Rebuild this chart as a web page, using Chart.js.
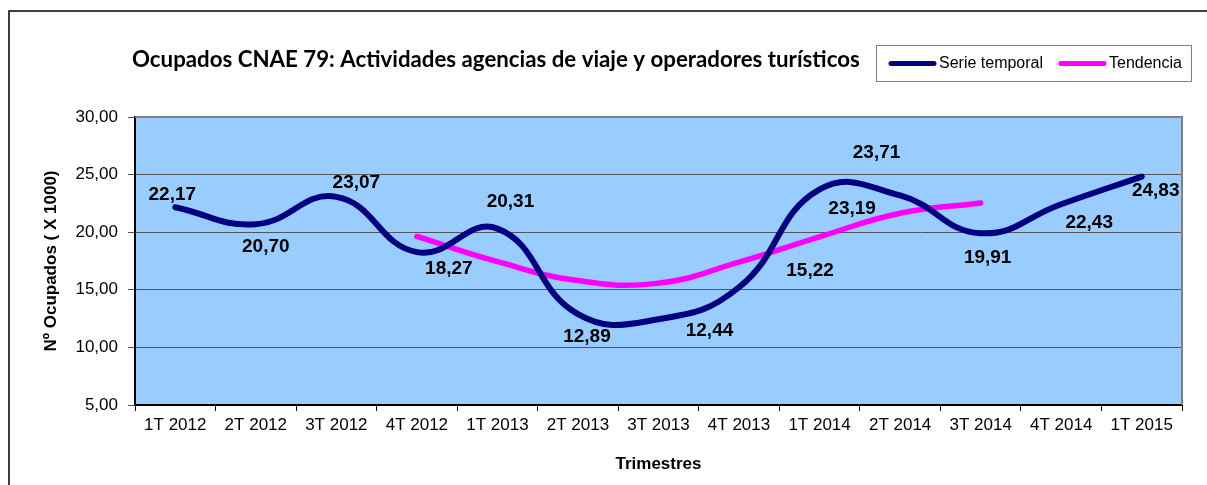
<!DOCTYPE html>
<html>
<head>
<meta charset="utf-8">
<script src="https://cdn.jsdelivr.net/npm/chart.js@4"></script>
<style>
  html, body { margin: 0; padding: 0; background: #fff; }
  #wrap { width: 1207px; height: 485px; }
</style>
</head>
<body>
<div id="wrap"><canvas id="myChart" width="1207" height="485"></canvas></div>
<script>
// datos
const trimestres = ["1T 2012", "2T 2012", "3T 2012", "4T 2012", "1T 2013", "2T 2013", "3T 2013",
                    "4T 2013", "1T 2014", "2T 2014", "3T 2014", "4T 2014", "1T 2015"];
const serieTemporal = [22.17, 20.70, 23.07, 18.27, 20.31, 12.89, 12.44, 15.22, 23.71, 23.19, 19.91, 22.43, 24.83];
const tendencia = [null, null, null, 19.63, 17.45, 15.80, 15.58, 17.40, 19.60, 21.65, 22.54, null, null];
const yMin = 5, yMax = 30, yStep = 5;

const titulo = "Ocupados CNAE 79: Actividades agencias de viaje y operadores turísticos";
const tituloEjeY = "Nº Ocupados ( X 1000)";
const tituloEjeX = "Trimestres";

// desplazamiento de las etiquetas respecto al punto (px), como en el original
const offsetsEtiquetas = [[-3, -12], [10, 23], [20, -14], [32, 17], [13, -27], [9, 23], [51, 11],
                          [71, -16], [57, -37], [-48, 13], [7, 25], [28, 19], [14, 14]];

const fmt = (v) => v.toFixed(2).replace(".", ",");

// fondo del area de trazado, marco y titulo/leyenda
const decoracion = {
    id: "decoracion",
    beforeDraw(chart) {
        const { ctx, chartArea: a } = chart;
        ctx.save();
        ctx.fillStyle = "#99CCFF";
        ctx.fillRect(a.left, a.top, a.right - a.left, a.bottom - a.top);
        ctx.restore();
    },
    afterDraw(chart) {
        const { ctx, chartArea: a } = chart;
        ctx.save();
        // borde gris arriba y derecha
        ctx.strokeStyle = "#808080";
        ctx.lineWidth = 2;
        ctx.beginPath();
        ctx.moveTo(a.left, a.top);
        ctx.lineTo(a.right, a.top);
        ctx.lineTo(a.right, a.bottom);
        ctx.stroke();

        // marco exterior
        ctx.strokeStyle = "#000";
        ctx.lineWidth = 1.5;
        ctx.beginPath();
        ctx.moveTo(9, 485);
        ctx.lineTo(9, 11);
        ctx.lineTo(1207, 11);
        ctx.stroke();

        // titulo
        ctx.fillStyle = "#000";
        let size = 18;
        ctx.font = "bold " + size + "px 'Lato', 'Open Sans', sans-serif";
        const w = ctx.measureText(titulo).width;
        size = size * 728 / w;
        ctx.font = "bold " + size.toFixed(2) + "px 'Lato', 'Open Sans', sans-serif";
        ctx.textBaseline = "alphabetic";
        ctx.textAlign = "left";
        ctx.fillText(titulo, 132, 67);

        // leyenda
        ctx.strokeStyle = "#808080";
        ctx.lineWidth = 1;
        ctx.strokeRect(876.5, 45.5, 315, 36);
        const items = chart.data.datasets;
        const xs = [889, 1059];
        ctx.font = "16px 'Liberation Sans', Arial, sans-serif";
        ctx.textBaseline = "middle";
        items.forEach((ds, i) => {
            ctx.strokeStyle = ds.borderColor;
            ctx.lineWidth = 5;
            ctx.lineCap = "round";
            ctx.beginPath();
            ctx.moveTo(xs[i] + 2, 63.5);
            ctx.lineTo(xs[i] + 45, 63.5);
            ctx.stroke();
            ctx.fillStyle = "#000";
            ctx.fillText(ds.label, xs[i] + 50, 64);
        });
        ctx.restore();
    },
    afterDatasetsDraw(chart) {
        const { ctx } = chart;
        const meta = chart.getDatasetMeta(0);
        ctx.save();
        ctx.fillStyle = "#000";
        ctx.font = "bold 19px 'Liberation Sans', Arial, sans-serif";
        ctx.textAlign = "center";
        ctx.textBaseline = "middle";
        meta.data.forEach((p, i) => {
            const o = offsetsEtiquetas[i];
            ctx.fillText(fmt(serieTemporal[i]), p.x + o[0], p.y + o[1]);
        });
        ctx.restore();
    }
};

const ctx = document.getElementById("myChart").getContext("2d");
const chart = new Chart(ctx, {
    type: "line",
    data: {
        labels: trimestres,
        datasets: [
            {
                label: "Serie temporal",
                data: serieTemporal,
                borderColor: "#000080",
                borderWidth: 6,
                borderCapStyle: "round",
                tension: 0.45,
                pointRadius: 0,
                fill: false
            },
            {
                label: "Tendencia",
                data: tendencia,
                borderColor: "#FF00FF",
                borderWidth: 5.5,
                borderCapStyle: "round",
                tension: 0.45,
                pointRadius: 0,
                fill: false
            }
        ]
    },
    options: {
        responsive: false,
        animation: false,
        layout: { padding: { top: 117, right: 25, left: 0, bottom: 0 } },
        plugins: {
            legend: { display: false },
            title: { display: false },
            tooltip: { enabled: false }
        },
        scales: {
            x: {
                offset: true,
                afterFit: (s) => { s.height = 80; },
                grid: { drawOnChartArea: false, drawTicks: true, tickLength: 6, color: "#000", offset: true },
                border: { color: "#000", width: 2 },
                ticks: {
                    color: "#000", padding: 4, maxRotation: 0, autoSkip: false,
                    font: { family: "'Liberation Sans', Arial, sans-serif", size: 17 }
                },
                title: {
                    display: true, text: tituloEjeX, color: "#000",
                    font: { family: "'Liberation Sans', Arial, sans-serif", size: 17, weight: "bold" },
                    padding: { top: 0, bottom: 10 }
                }
            },
            y: {
                min: yMin, max: yMax,
                afterFit: (s) => { s.width = 135; },
                grid: { color: "#555", lineWidth: 1, tickLength: 7, drawTicks: true },
                border: { color: "#000", width: 2 },
                ticks: {
                    stepSize: yStep, color: "#000", padding: 10,
                    font: { family: "'Liberation Sans', Arial, sans-serif", size: 17 },
                    callback: (v) => fmt(v)
                },
                title: {
                    display: true, text: tituloEjeY, color: "#000",
                    font: { family: "'Liberation Sans', Arial, sans-serif", size: 17, weight: "bold" },
                    padding: { top: 41, bottom: 0 }
                }
            }
        }
    },
    plugins: [decoracion]
});
</script>
</body>
</html>
